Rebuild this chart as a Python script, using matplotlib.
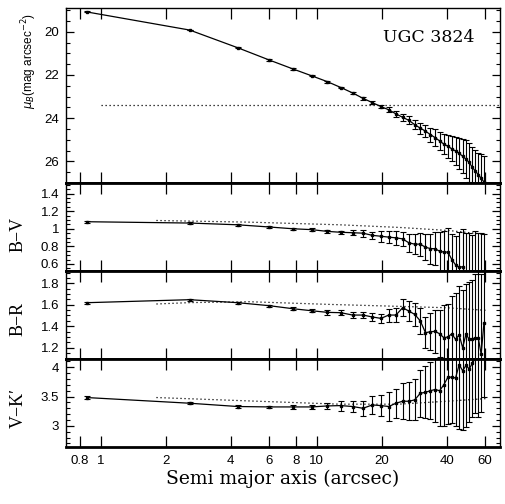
import matplotlib
matplotlib.use('Agg')
import matplotlib.pyplot as plt
import numpy as np
from matplotlib.ticker import FixedLocator, MultipleLocator, FuncFormatter, NullLocator

# fonts: helvetica-like ticks, times-like labels
plt.rcParams['font.family'] = ['Liberation Sans', 'DejaVu Sans']
plt.rcParams['mathtext.fontset'] = 'dejavusans'

# data
radius = [0.86, 2.58, 4.31, 6.04, 7.76, 9.49, 11.21, 12.94, 14.66, 16.39,
          18.11, 19.84, 21.56, 23.29, 25.01, 26.74, 28.46, 30.19, 31.91, 33.64,
          35.36, 37.09, 38.81, 40.54, 42.26, 43.99, 45.71, 47.44, 49.16, 50.89,
          52.61, 54.34, 56.06, 57.79, 59.51]

mu_b = [19.08, 19.92, 20.74, 21.31, 21.72, 22.04, 22.31, 22.58, 22.83, 23.08,
        23.28, 23.46, 23.61, 23.80, 23.96, 24.10, 24.30, 24.46, 24.60, 24.76,
        24.90, 25.05, 25.20, 25.30, 25.42, 25.52, 25.63, 25.76, 25.90, 26.05,
        26.28, 26.45, 26.62, 26.78, 26.95]
mu_err = [0.02, 0.02, 0.02, 0.03, 0.03, 0.03, 0.04, 0.04, 0.05, 0.06,
          0.08, 0.09, 0.12, 0.14, 0.16, 0.18, 0.21, 0.25, 0.29, 0.32,
          0.38, 0.42, 0.46, 0.52, 0.58, 0.65, 0.72, 0.80, 0.87, 0.90,
          0.95, 0.98, 1.03, 1.12, 1.20]

bv = [1.08, 1.065, 1.045, 1.02, 1.00, 0.99, 0.97, 0.96, 0.955, 0.95,
      0.925, 0.915, 0.905, 0.897, 0.885, 0.84, 0.825, 0.825, 0.79, 0.775,
      0.773, 0.745, 0.735, 0.735, 0.65, 0.59, 0.56, 0.57, 0.45, 0.40,
      0.38, 0.42, 0.40, 0.38, 0.42]
bv_err = [0.01, 0.01, 0.01, 0.01, 0.01, 0.015, 0.02, 0.02, 0.03, 0.04,
          0.04, 0.06, 0.065, 0.08, 0.08, 0.10, 0.115, 0.13, 0.15, 0.17,
          0.19, 0.22, 0.24, 0.27, 0.29, 0.33, 0.40, 0.43, 0.50, 0.55,
          0.55, 0.55, 0.55, 0.57, 0.52]

br = [1.619, 1.647, 1.619, 1.591, 1.563, 1.544, 1.529, 1.526, 1.504, 1.504,
      1.486, 1.473, 1.504, 1.504, 1.572, 1.541, 1.51, 1.45, 1.34, 1.349,
      1.352, 1.33, 1.293, 1.30, 1.33, 1.277, 1.32, 1.20, 1.327, 1.277,
      1.284, 1.29, 1.29, 1.14, 1.426]
br_err = [0.01, 0.01, 0.01, 0.01, 0.015, 0.015, 0.02, 0.025, 0.03, 0.03,
          0.035, 0.045, 0.06, 0.065, 0.08, 0.09, 0.11, 0.12, 0.145, 0.17,
          0.20, 0.22, 0.30, 0.31, 0.35, 0.43, 0.45, 0.54, 0.47, 0.53,
          0.55, 0.60, 0.62, 0.75, 0.70]

vk = [3.483, 3.386, 3.33, 3.323, 3.323, 3.323, 3.34, 3.346, 3.33, 3.30,
      3.357, 3.346, 3.33, 3.386, 3.42, 3.42, 3.443, 3.556, 3.573, 3.60,
      3.62, 3.60, 3.70, 3.83, 3.83, 3.817, 4.045, 3.94, 4.03, 3.97,
      4.07, 4.15, 4.25, 4.30, 4.55]
vk_err = [0.02, 0.02, 0.02, 0.02, 0.03, 0.04, 0.057, 0.085, 0.10, 0.125,
          0.155, 0.18, 0.25, 0.25, 0.31, 0.32, 0.35, 0.40, 0.44, 0.49,
          0.55, 0.60, 0.70, 0.80, 0.78, 0.82, 1.10, 1.01, 1.05, 0.90,
          0.92, 0.93, 1.10, 1.07, 1.05]

# dotted reference lines
mu_lim_r = [1.0, 70.0]
mu_lim = [23.38, 23.38]
bv_model_r = [1.81, 4.9, 12.8, 24.2, 41.0, 60.9]
bv_model = [1.094, 1.075, 1.045, 1.015, 0.98, 0.935]
br_model_r = [1.81, 2.6, 4.9, 11.5, 24.0, 39.8, 60.9]
br_model = [1.607, 1.62, 1.628, 1.603, 1.585, 1.572, 1.548]
vk_model_r = [1.81, 4.9, 12.7, 24.0, 40.0, 60.9]
vk_model = [3.483, 3.425, 3.37, 3.37, 3.42, 3.465]

xticks = [0.8, 1, 2, 4, 6, 8, 10, 20, 40, 60]

fig = plt.figure(figsize=(5.05, 5.04), dpi=100)
left, width = 0.1307, 0.859
ax_mu = fig.add_axes([left, 0.6369, width, 0.3472])
ax_bv = fig.add_axes([left, 0.4623, width, 0.1746])
ax_br = fig.add_axes([left, 0.2877, width, 0.1746])
ax_vk = fig.add_axes([left, 0.1131, width, 0.1746])

panels = [
    (ax_mu, mu_b, mu_err, mu_lim_r, mu_lim, (27.0, 18.9), [20, 22, 24, 26], 0.5),
    (ax_bv, bv, bv_err, bv_model_r, bv_model, (0.52, 1.52), [0.6, 0.8, 1, 1.2, 1.4], 0.05),
    (ax_br, br, br_err, br_model_r, br_model, (1.095, 1.914), [1.2, 1.4, 1.6, 1.8], 0.05),
    (ax_vk, vk, vk_err, vk_model_r, vk_model, (2.64, 4.14), [3, 3.5, 4], 0.1),
]

fmt = FuncFormatter(lambda v, p: '%g' % v)
for ax, y, e, mr, mv, ylim, yt, ymin in panels:
    ax.set_xscale('log')
    ax.errorbar(radius, y, yerr=e, fmt='-', color='black', lw=0.9,
                elinewidth=0.8, capsize=2, capthick=0.8, marker='s',
                markersize=1.5)
    ax.plot(mr, mv, linestyle=(0, (1, 2.2)), color='black', lw=0.9)
    ax.set_xlim(0.69, 70.5)
    ax.set_ylim(*ylim)
    ax.xaxis.set_major_locator(FixedLocator(xticks))
    ax.xaxis.set_minor_locator(NullLocator())
    ax.xaxis.set_major_formatter(fmt)
    ax.yaxis.set_major_locator(FixedLocator(yt))
    ax.yaxis.set_minor_locator(MultipleLocator(ymin))
    ax.yaxis.set_major_formatter(fmt)
    ax.tick_params(axis='x', which='major', direction='in', length=8,
                   width=0.9, top=True, bottom=True, labelsize=9.5, pad=6)
    ax.tick_params(axis='y', which='major', direction='in', length=6,
                   width=0.9, left=True, right=True, labelsize=9.5, pad=5)
    ax.tick_params(axis='y', which='minor', direction='in', length=3,
                   width=0.8, left=True, right=True)
    for s in ax.spines.values():
        s.set_linewidth(1.0)
    if ax is not ax_vk:
        ax.tick_params(axis='x', labelbottom=False)
        ax.spines['bottom'].set_linewidth(2.0)
    if ax is not ax_mu:
        ax.spines['top'].set_linewidth(2.0)

ax_vk.spines['bottom'].set_linewidth(2.0)

serif = ['Liberation Serif', 'DejaVu Serif']
wide_serif = ['DejaVu Serif']
ax_mu.set_ylabel(r'$\mu_B$(mag arcsec$^{-2}$)', fontsize=8.5)
ax_mu.yaxis.set_label_coords(-0.062, 0.70)
ax_bv.set_ylabel('B\u2212V', family=serif, fontsize=13)
ax_bv.yaxis.set_label_coords(-0.09, 0.42)
ax_br.set_ylabel('B\u2212R', family=serif, fontsize=13)
ax_br.yaxis.set_label_coords(-0.09, 0.45)
ax_vk.set_ylabel('V\u2212K\u2032', family=serif, fontsize=13)
ax_vk.yaxis.set_label_coords(-0.09, 0.44)
ax_vk.set_xlabel('Semi major axis (arcsec)', family=wide_serif, fontsize=13.5,
                 labelpad=2)

ax_mu.text(0.836, 0.83, 'UGC 3824', transform=ax_mu.transAxes, ha='center',
           va='center', family=wide_serif, fontsize=12.5)

fig.savefig('out.png', dpi=100)
